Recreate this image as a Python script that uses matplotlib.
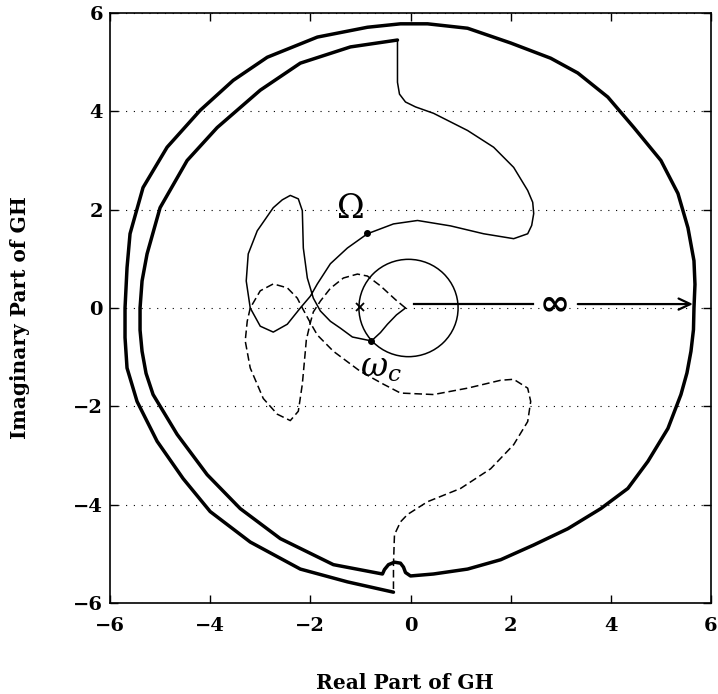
import matplotlib
matplotlib.use('Agg')
import matplotlib.pyplot as plt
from matplotlib.patches import Circle

# thick contour: inner left arc -> small bump -> big right arc -> outer left arc
thick_x = [-0.26, -1.2, -2.2, -3.0, -3.86, -4.46, -5.0, -5.26, -5.36, -5.4, -5.4, -5.36, -5.28, -5.14, -4.66, -4.06,
           -3.4, -2.6, -1.54, -0.56,
           -0.52, -0.44, -0.32, -0.2, -0.14, -0.1, 0.0,
           0.46, 1.14, 1.8, 2.46, 3.14, 3.8, 4.34, 4.74, 5.14, 5.4, 5.52, 5.6, 5.65, 5.66,
           5.68, 5.66, 5.54, 5.34, 5.0, 4.46, 3.94, 3.34, 2.8, 2.0, 1.14, 0.34, -0.2, -0.86, -1.86, -2.86, -3.54,
           -4.2, -4.86, -5.34, -5.6, -5.66, -5.7, -5.7, -5.66, -5.46, -5.06, -4.54, -4.0, -3.2, -2.2, -1.26, -0.34]
thick_y = [5.45, 5.31, 4.98, 4.43, 3.67, 3.0, 2.04, 1.1, 0.55, 0.0, -0.45, -0.88, -1.33, -1.76, -2.57, -3.39,
           -4.08, -4.69, -5.22, -5.41,
           -5.32, -5.22, -5.17, -5.19, -5.27, -5.38, -5.45,
           -5.41, -5.31, -5.12, -4.82, -4.49, -4.08, -3.67, -3.12, -2.45, -1.76, -1.32, -0.88, -0.44, 0.0,
           0.48, 0.96, 1.63, 2.33, 3.0, 3.67, 4.29, 4.78, 5.08, 5.39, 5.69, 5.78, 5.78, 5.71, 5.51, 5.1, 4.63,
           4.02, 3.27, 2.45, 1.51, 0.82, 0.0, -0.6, -1.22, -1.9, -2.71, -3.47, -4.14, -4.76, -5.31, -5.57, -5.78]

# thin solid branch (positive frequencies)
solid_x = [-0.26, -0.26, -0.26, -0.22, -0.1, 0.1, 0.46, 1.14, 1.66, 2.06, 2.34, 2.44, 2.46, 2.42, 2.34, 2.06, 1.46,
           0.8, 0.14, -0.34, -0.86, -1.26, -1.6, -1.86, -2.0, -2.2, -2.46, -2.74, -3.0, -3.2, -3.28, -3.24, -3.06,
           -2.74, -2.56, -2.4, -2.24, -2.16, -2.14, -2.06, -1.94, -1.8, -1.6, -1.4, -1.16, -0.78, -0.6, -0.46,
           -0.28, -0.1]
solid_y = [5.45, 5.0, 4.59, 4.35, 4.19, 4.09, 3.96, 3.61, 3.27, 2.86, 2.39, 2.15, 1.92, 1.68, 1.51, 1.41, 1.51,
           1.67, 1.78, 1.71, 1.51, 1.22, 0.9, 0.49, 0.24, 0.0, -0.33, -0.49, -0.37, 0.0, 0.55, 1.1, 1.57,
           2.04, 2.2, 2.29, 2.22, 1.98, 1.22, 0.61, 0.2, -0.06, -0.27, -0.41, -0.59, -0.67, -0.5, -0.33,
           -0.14, 0.0]

# thin dashed branch (negative frequencies)
dashed_x = [-0.1, -0.3, -0.6, -0.86, -1.06, -1.34, -1.6, -1.8, -1.94, -2.0, -2.08, -2.1, -2.16, -2.24, -2.4,
            -2.66, -2.94, -3.2, -3.3, -3.26, -3.2, -3.0, -2.74, -2.46, -2.26, -2.16, -2.0, -1.86, -1.54, -1.0,
            -0.54, -0.2, 0.46, 1.14, 1.8, 2.06, 2.34, 2.4, 2.34, 2.06, 1.6, 1.0, 0.34, -0.06, -0.2, -0.32, -0.34, -0.34]
dashed_y = [0.0, 0.17, 0.45, 0.65, 0.69, 0.61, 0.4, 0.14, -0.08, -0.3, -0.65, -0.88, -1.55, -2.1, -2.29,
            -2.16, -1.84, -1.22, -0.67, -0.27, 0.0, 0.35, 0.49, 0.41, 0.2, 0.0, -0.3, -0.55, -0.88, -1.29,
            -1.55, -1.73, -1.76, -1.63, -1.47, -1.45, -1.63, -1.9, -2.31, -2.78, -3.27, -3.67, -3.94, -4.2, -4.35, -4.61, -5.22, -5.78]

unit_circle_center = (-0.04, 0.0)
unit_circle_radius = 0.99
dots_x = [-0.86, -0.78]      # Omega point, crossover omega_c
dots_y = [1.53, -0.67]
crit_x = [-1.0]
crit_y = [0.02]
arrow_x = [0.06, 2.44, 3.34, 5.64]   # start, gap start, gap end, tip
arrow_y = 0.08

plt.rcParams['font.family'] = 'DejaVu Serif'
plt.rcParams['mathtext.fontset'] = 'dejavuserif'

fig = plt.figure(figsize=(7.18, 6.94), dpi=100)
ax = fig.add_axes([110 / 718, 91 / 694, 601 / 718, 590 / 694])

ax.plot(thick_x, thick_y, color='k', lw=2.5, solid_joinstyle='round', solid_capstyle='round')
ax.plot(solid_x, solid_y, color='k', lw=1.1, solid_joinstyle='round')
ax.plot(dashed_x, dashed_y, color='k', lw=1.1, linestyle=(0, (5, 2.5)))
ax.add_patch(Circle(unit_circle_center, unit_circle_radius, fill=False, ec='k', lw=1.1))
ax.plot(dots_x, dots_y, 'ko', ms=4)
ax.plot(crit_x, crit_y, 'kx', ms=6, mew=1.3)

# arrow to infinity
ax.plot(arrow_x[:2], [arrow_y, arrow_y], color='k', lw=1.6)
ax.annotate('', xy=(arrow_x[3], arrow_y), xytext=(arrow_x[2], arrow_y),
            arrowprops=dict(arrowstyle='->,head_length=0.85,head_width=0.4', lw=1.6, color='k',
                            shrinkA=0, shrinkB=0))
ax.text((arrow_x[1] + arrow_x[2]) / 2, arrow_y, '\u221e', fontsize=26, ha='center', va='center',
        family='DejaVu Sans', fontweight='bold')
ax.text(-1.2, 2.01, '\u03a9', fontsize=24, ha='center', va='center')
ax.text(-0.6, -1.22, r'$\omega_c$', fontsize=24, ha='center', va='center')

ax.set_xlim(-6, 6)
ax.set_ylim(-6, 6)
ax.set_xticks(range(-6, 7, 2))
ax.set_yticks(range(-6, 7, 2))
ax.grid(axis='y', linestyle=(0, (1, 6)), lw=0.8, color='k')
ax.set_axisbelow(True)
for s in ax.spines.values():
    s.set_linewidth(1.2)
ax.tick_params(direction='in', top=True, right=True, length=6, width=1, labelsize=14)
ax.tick_params(axis='x', pad=10)
ax.tick_params(axis='y', pad=5)
for lab in ax.get_xticklabels() + ax.get_yticklabels():
    lab.set_fontweight('bold')

ax.set_xlabel('Real Part of GH', fontsize=14.5, fontweight='bold')
ax.set_ylabel('Imaginary Part of GH', fontsize=14.5, fontweight='bold')
ax.xaxis.set_label_coords(0.491, -0.119)
ax.yaxis.label.set_verticalalignment('center')
ax.yaxis.set_label_coords(-0.15, 0.484)

fig.savefig('out.png', dpi=100)
